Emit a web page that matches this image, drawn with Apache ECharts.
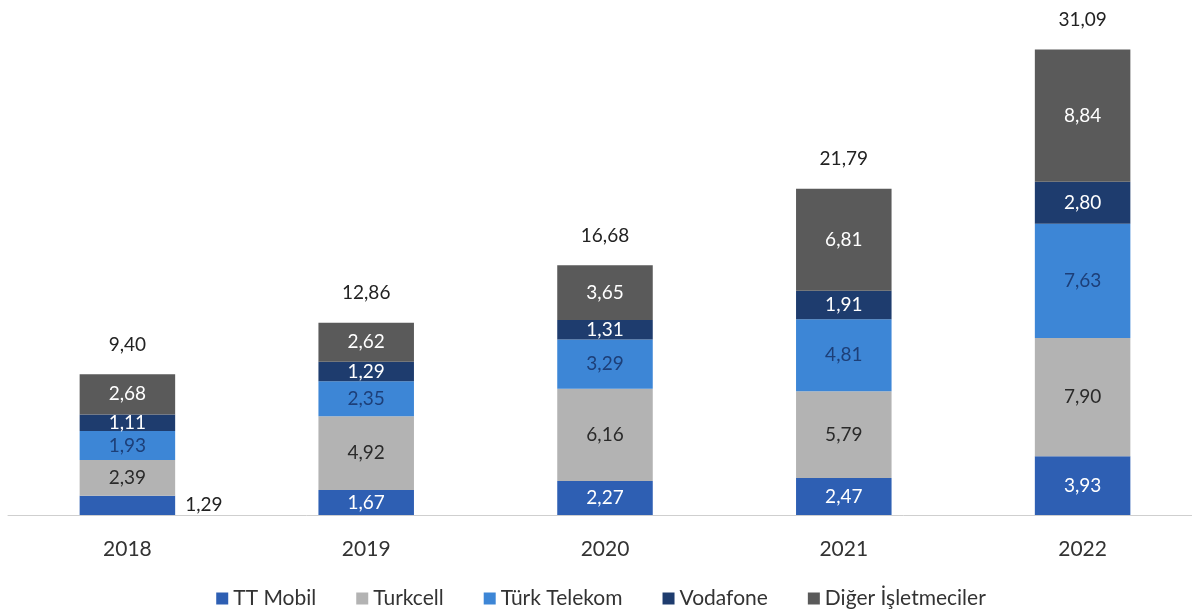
<!DOCTYPE html>
<html><head><meta charset="utf-8">
<script src="https://cdn.jsdelivr.net/npm/echarts@6/dist/echarts.min.js"></script>
<style>html,body{margin:0;padding:0;background:#fff;overflow:hidden}#c{width:1202px;height:614px}</style>
</head><body><div id="c"></div>
<script>
var categories = ['2018','2019','2020','2021','2022'];
var ttMobil = [1.29, 1.67, 2.27, 2.47, 3.93];
var turkcell = [2.39, 4.92, 6.16, 5.79, 7.90];
var turkTelekom = [1.93, 2.35, 3.29, 4.81, 7.63];
var vodafone = [1.11, 1.29, 1.31, 1.91, 2.80];
var diger = [2.68, 2.62, 3.65, 6.81, 8.84];
var totals = [9.40, 12.86, 16.68, 21.79, 31.09];
var seriesNames = ['TT Mobil','Turkcell','Türk Telekom','Vodafone','Diğer İşletmeciler'];

var FONT = 'Lato';
function fmt(v){ return Number(v).toFixed(2).replace('.', ','); }

function mk(name, data, color, labelColor){
  return {
    name: name, type: 'bar', stack: 't', barWidth: '40%',
    itemStyle: {color: color},
    label: {show: true, position: 'inside', color: labelColor, fontFamily: FONT, fontSize: 19,
      formatter: function(p){ return fmt(p.value); }},
    data: data.slice()
  };
}
var s1 = mk(seriesNames[0], ttMobil, '#2e5fb3', '#ffffff');
s1.data = ttMobil.map(function(v,i){
  if (i === 0) return {value: v, label: {position: 'right', distance: 10, color: '#222'}};
  return v;
});
var series = [
  s1,
  mk(seriesNames[1], turkcell, '#b3b3b3', '#2a2a2a'),
  mk(seriesNames[2], turkTelekom, '#3d86d6', '#1d3f78'),
  mk(seriesNames[3], vodafone, '#1e3c6e', '#ffffff'),
  mk(seriesNames[4], diger, '#5a5a5a', '#ffffff'),
  {
    name: 'Toplam', type: 'bar', stack: 't', barWidth: '40%',
    itemStyle: {color: 'transparent'},
    label: {show: true, position: 'top', distance: 20, color: '#222', fontFamily: FONT, fontSize: 19,
      formatter: function(p){ return fmt(totals[p.dataIndex]); }},
    data: totals.map(function(){ return 0; })
  }
];

var chart = echarts.init(document.getElementById('c'));
chart.setOption({
  animation: false,
  backgroundColor: '#fff',
  grid: {left: 8, right: 0, top: 21, bottom: 99, containLabel: false},
  xAxis: {type: 'category', data: categories,
    axisLine: {lineStyle: {color: '#cfcfcf', width: 1}},
    axisTick: {show: false},
    axisLabel: {color: '#333', fontFamily: FONT, fontSize: 21, margin: 24}},
  yAxis: {type: 'value', min: 0, max: 33, show: false, splitLine: {show: false}},
  legend: {data: seriesNames, bottom: 0, left: 'center', itemWidth: 12, itemHeight: 12, itemGap: 40,
    icon: 'rect', textStyle: {color: '#333', fontFamily: FONT, fontSize: 21}},
  series: series
});
</script></body></html>
